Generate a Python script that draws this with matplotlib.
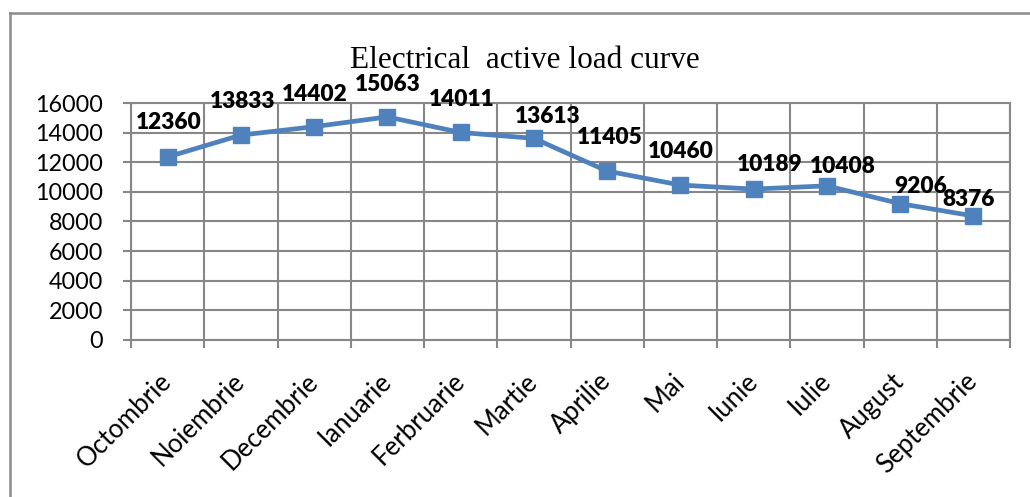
import matplotlib
matplotlib.use("Agg")
import matplotlib.pyplot as plt
from matplotlib.lines import Line2D
import numpy as np

months = ["Octombrie", "Noiembrie", "Decembrie", "Ianuarie", "Ferbruarie", "Martie",
          "Aprilie", "Mai", "Iunie", "Iulie", "August", "Septembrie"]
load = [12360, 13833, 14402, 15063, 14011, 13613, 11405, 10460, 10189, 10408, 9206, 8376]
yticks = [0, 2000, 4000, 6000, 8000, 10000, 12000, 14000, 16000]
title = "Electrical  active load curve"

# label offsets in points (dx, dy) relative to each marker
label_offsets = [(1, 25), (1, 24), (0.5, 23.5), (0, 23), (0.5, 23.5), (10, 16),
                 (2, 24), (0.5, 24), (11.5, 17.5), (11.5, 14), (14.5, 12.5), (-3.5, 12)]

GRID = "#878787"
BLUE = "#4F81BD"
FONT = "Lato"

fig = plt.figure(figsize=(10.30, 4.97), dpi=100)
ax = fig.add_axes([131/1030, 1-340/497, (1010-131)/1030, (340-103)/497])

x = np.arange(len(months))
ax.plot(x, load, color=BLUE, lw=3.4, marker="s", markersize=11, zorder=5, clip_on=False)

for xi, v, (dx, dy) in zip(x, load, label_offsets):
    ax.annotate(str(v), (xi, v), xytext=(dx, dy), textcoords="offset points",
                ha="center", va="center", fontsize=16.3, fontweight="heavy",
                family=FONT, color="black", zorder=6)

ax.set_xlim(-0.5, len(months) - 0.5)
ax.set_ylim(0, 16000)
ax.set_yticks(yticks)
ax.set_yticklabels([str(t) for t in yticks], family=FONT, fontsize=16.8)
ax.set_xticks(x)
ax.set_xticklabels(months, rotation=45, ha="right", va="center",
                   rotation_mode="anchor", family=FONT, fontsize=18.5)
ax.set_xticks(np.arange(-0.5, len(months)), minor=True)
ax.tick_params(axis="x", which="major", length=0, pad=27)
ax.tick_params(axis="x", which="minor", length=6, width=1.5, color=GRID, direction="out")
ax.tick_params(axis="y", length=6, width=1.5, color=GRID, pad=14)

ax.grid(True, axis="y", color=GRID, lw=1.5)
ax.grid(True, axis="x", which="minor", color=GRID, lw=1.5)
for s in ax.spines.values():
    s.set_color(GRID)
    s.set_linewidth(1.5)
ax.set_axisbelow(True)

fig.text(525/1030, 1-60/497, title, family="Liberation Serif", fontsize=22.5,
         ha="center", va="center")

# outer frame (clipped at right and bottom in the reference)
fig.add_artist(Line2D([10/1030, 1.0], [1-13/497, 1-13/497], transform=fig.transFigure,
                      color="#8c8c8c", lw=1.8))
fig.add_artist(Line2D([10/1030, 10/1030], [0, 1-13/497], transform=fig.transFigure,
                      color="#8c8c8c", lw=1.8))

fig.savefig("out.png", dpi=100)
